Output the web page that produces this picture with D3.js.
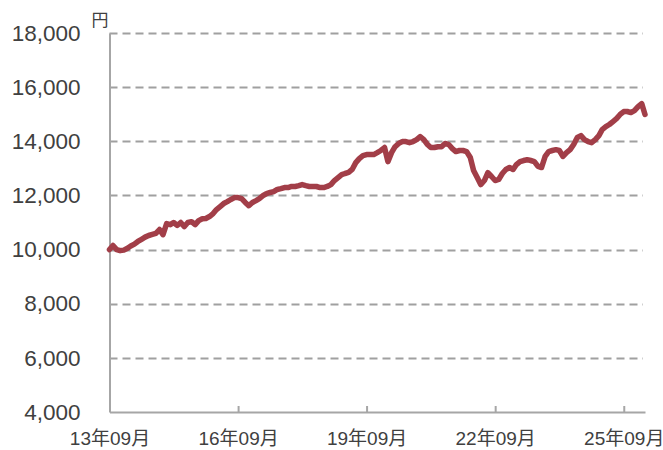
<!DOCTYPE html>
<html>
<head>
<meta charset="utf-8">
<title>基準価額の推移</title>
<style>
  body { margin: 0; background: #fff; }
  text { font-family: "Liberation Sans", Arial, "Noto Sans CJK JP", sans-serif; fill: #404040; }
</style>
</head>
<body>
<svg width="663" height="450"></svg>
<script src="https://cdn.jsdelivr.net/npm/d3@7"></script>
<script>

// first month of the series, one value per month after that
var startMonth = new Date(2013, 8, 1);
var values = [
  10000, 10150, 10000, 9960, 9980, 10050, 10130, 10200, 10300, 10380,
  10460, 10520, 10560, 10600, 10740, 10550, 10960, 10920, 11000, 10890,
  11000, 10850, 11000, 11030, 10920, 11070, 11140, 11150, 11220, 11330,
  11480, 11590, 11700, 11770, 11850, 11920, 11920, 11880, 11740, 11620,
  11740, 11810, 11880, 11990, 12070, 12110, 12140, 12220, 12250, 12290,
  12290, 12330, 12330, 12360, 12400, 12360, 12330, 12330, 12330, 12290,
  12290, 12330, 12400, 12550, 12660, 12770, 12810, 12850, 12960, 13210,
  13360, 13470, 13510, 13510, 13510, 13580, 13660, 13770, 13250, 13580,
  13800, 13920, 13990, 13990, 13950, 13990, 14060, 14170, 14060, 13880,
  13770, 13770, 13800, 13800, 13920, 13880, 13730, 13620, 13660, 13660,
  13620, 13400, 12920, 12660, 12400, 12550, 12840, 12700, 12550, 12590,
  12810, 12960, 13030, 12960, 13140, 13250, 13290, 13320, 13290, 13250,
  13070, 13030, 13440, 13620, 13660, 13690, 13660, 13440, 13580, 13690,
  13880, 14140, 14210, 14060, 13990, 13950, 14060, 14210, 14430, 14540,
  14620, 14730, 14840, 14990, 15100, 15100, 15060, 15130, 15280, 15390,
  14990
];
var xTickLabels = ["13年09月", "16年09月", "19年09月", "22年09月", "25年09月"];
var yTicks = [4000, 6000, 8000, 10000, 12000, 14000, 16000, 18000];
var unitLabel = "円";

var months = values.map((v, i) => d3.timeMonth.offset(startMonth, i));
var xTickDates = xTickLabels.map(s => new Date(2000 + +s.slice(0, 2), +s.slice(3, 5) - 1, 1));

//svg setting
var svg = d3.select("svg"),
    width = +svg.attr("width"),
    height = +svg.attr("height");
var margin = {top: 33, right: 18, bottom: 38, left: 109.5};

var x = d3.scaleTime()
    .domain([months[0], months[months.length - 1]])
    .range([margin.left, width - margin.right]);
var y = d3.scaleLinear()
    .domain([4000, 18000])
    .range([height - margin.bottom, margin.top]);

//grid lines
svg.append("g")
    .selectAll("line")
    .data(yTicks.slice(1))
    .enter().append("line")
        .attr("x1", margin.left)
        .attr("x2", width - margin.right - 2)
        .attr("y1", d => Math.round(y(d)) + 0.5)
        .attr("y2", d => Math.round(y(d)) + 0.5)
        .attr("stroke", "#a0a0a0")
        .attr("stroke-width", 2)
        .attr("stroke-dasharray", "8,5");

//y axis
var yAxis = svg.append("g")
    .attr("transform", "translate(" + margin.left + ",0)")
    .call(d3.axisLeft(y).tickValues(yTicks).tickSize(0).tickPadding(29)
        .tickFormat(d3.format(",")));
yAxis.select(".domain").attr("stroke", "#a6a6a6").attr("stroke-width", 2);
yAxis.selectAll("text").attr("font-size", 22.5).attr("font-family", null).attr("fill", "#404040");

//x axis, ticks pointing up into the plot
var xAxis = svg.append("g")
    .attr("transform", "translate(0," + (height - margin.bottom) + ")")
    .call(d3.axisBottom(x).tickValues(xTickDates).tickSizeInner(-6).tickSizeOuter(0).tickPadding(20)
        .tickFormat((d, i) => xTickLabels[i]));
xAxis.select(".domain").attr("stroke", "#a6a6a6").attr("stroke-width", 2);
xAxis.selectAll(".tick line").attr("stroke", "#a6a6a6").attr("stroke-width", 2);
xAxis.selectAll("text").attr("font-size", 19).attr("font-family", null).attr("fill", "#404040");

//unit
svg.append("text")
    .attr("x", margin.left - 1)
    .attr("y", 26)
    .attr("text-anchor", "end")
    .attr("font-size", 17)
    .text(unitLabel);

//series line
var line = d3.line()
    .x((d, i) => x(months[i]))
    .y(d => y(d));
svg.append("path")
    .datum(values)
    .attr("fill", "none")
    .attr("stroke", "#a23e48")
    .attr("stroke-width", 5.5)
    .attr("stroke-linejoin", "round")
    .attr("stroke-linecap", "round")
    .attr("d", line);

</script>
</body>
</html>
